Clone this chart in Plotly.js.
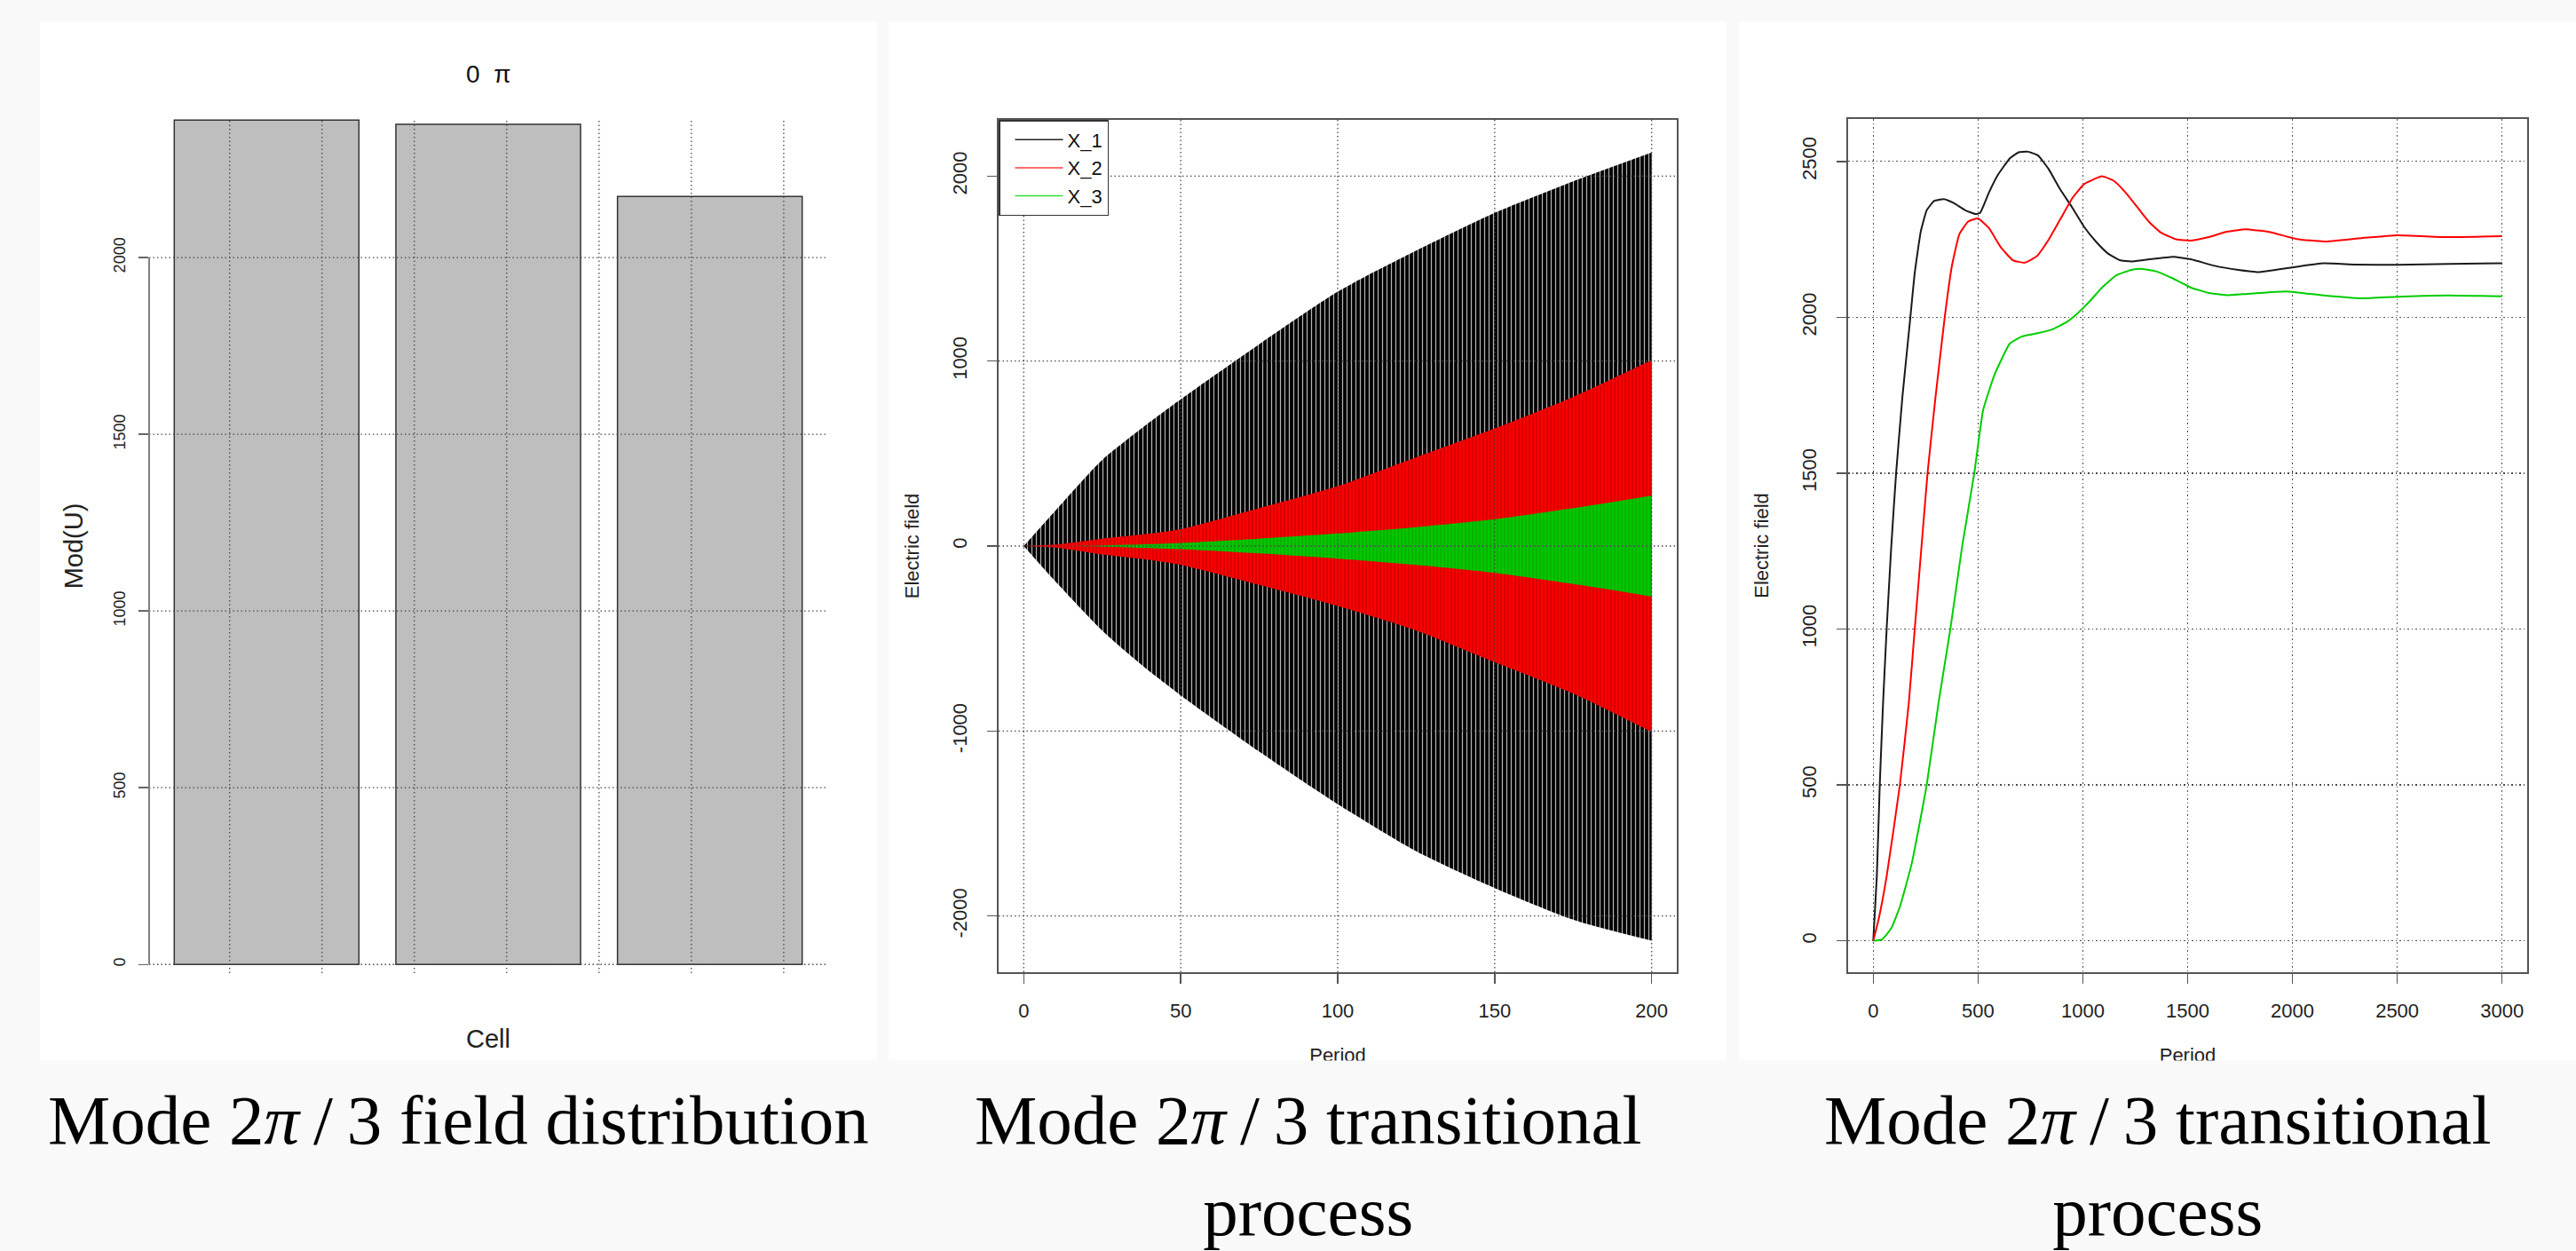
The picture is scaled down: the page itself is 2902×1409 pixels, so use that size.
<!DOCTYPE html>
<html>
<head>
<meta charset="utf-8">
<script src="https://cdn.plot.ly/plotly-3.0.1.min.js"></script>
<style>
html, body { margin: 0; padding: 0; background: #f9f9f9; }
#chart { width: 2902px; height: 1409px; }
</style>
</head>
<body>
<div id="chart"></div>
<script>
// ---------- Panel 1: field distribution (bar chart) ----------
const cells = ['1', '2', '3'];
const modU = [2389, 2377, 2173];
const barTicks = [0, 500, 1000, 1500, 2000];
const barGridX = [0.5, 1, 1.5, 2, 2.5, 3, 3.5];   // grid positions in barplot units

// ---------- Panel 2: transitional process (oscillation envelopes) ----------
const periodEnv = [0, 10, 25, 37.5, 50, 75, 100, 125, 150, 175, 200];
const x1Upper = [0, 190, 466, 636, 793, 1091, 1375, 1597, 1801, 1972, 2128];
const x1Lower = [0, -190, -457, -642, -807, -1111, -1395, -1650, -1849, -2020, -2133];
const x2Upper = [0, 8, 40, 62, 91, 205, 324, 480, 636, 807, 1006];
const x2Lower = [0, -8, -45, -70, -102, -210, -324, -457, -628, -798, -1006];
const x3Upper = [0, 0, 3, 9, 17, 40, 68, 102, 145, 205, 273];
const x3Lower = [0, 0, -3, -9, -17, -40, -68, -102, -145, -205, -273];
const p2XTicks = [0, 50, 100, 150, 200];
const p2YTicks = [-2000, -1000, 0, 1000, 2000];

// ---------- Panel 3: transitional process (amplitudes) ----------
const ampX1 = [0, 17, 31, 47, 64, 85, 109, 139, 177, 198, 227, 255, 290, 337, 382, 439, 489, 510, 552, 595, 652, 694, 737, 786, 836, 892, 949, 1006, 1062, 1119, 1176, 1232, 1317, 1431, 1516, 1629, 1742, 1841, 1930, 2021, 2149, 2300, 2501, 2750, 3000];
const ampY1 = [0, 207, 500, 766, 1001, 1255, 1500, 1744, 2000, 2143, 2276, 2343, 2373, 2379, 2367, 2343, 2331, 2335, 2400, 2457, 2510, 2529, 2531, 2519, 2476, 2410, 2352, 2290, 2243, 2205, 2183, 2179, 2186, 2194, 2186, 2165, 2152, 2145, 2153, 2162, 2173, 2169, 2168, 2171, 2173];
const ampX2 = [0, 25, 64, 127, 170, 198, 229, 259, 297, 340, 375, 411, 453, 500, 552, 609, 666, 722, 779, 836, 892, 949, 1006, 1091, 1147, 1204, 1261, 1317, 1374, 1445, 1516, 1601, 1686, 1777, 1893, 2021, 2149, 2329, 2501, 2740, 3000];
const ampY2 = [0, 67, 207, 500, 766, 1001, 1255, 1500, 1744, 1995, 2164, 2267, 2307, 2317, 2286, 2224, 2183, 2175, 2195, 2248, 2314, 2381, 2427, 2452, 2438, 2400, 2352, 2305, 2271, 2250, 2246, 2257, 2274, 2282, 2273, 2251, 2243, 2254, 2263, 2257, 2260];
const ampX3 = [0, 42, 85, 127, 184, 255, 312, 368, 425, 482, 524, 578, 652, 708, 779, 850, 921, 977, 1034, 1091, 1161, 1232, 1282, 1346, 1431, 1516, 1601, 1686, 1764, 1970, 2149, 2329, 2501, 2740, 3000];
const ampY3 = [0, 4, 39, 109, 249, 500, 766, 1001, 1269, 1500, 1702, 1815, 1916, 1938, 1948, 1960, 1984, 2014, 2052, 2095, 2135, 2152, 2155, 2148, 2124, 2095, 2078, 2071, 2074, 2083, 2070, 2061, 2066, 2070, 2067];
const p3XTicks = [0, 500, 1000, 1500, 2000, 2500, 3000];
const p3YTicks = [0, 500, 1000, 1500, 2000, 2500];

const seriesNames = ['X_1', 'X_2', 'X_3'];
const seriesColors = ['#1a1a1a', '#ff0000', '#00cd00'];
const legendColors = ['#222222', '#ff3b3b', '#33dd33'];

const captions = [
  'Mode 2<i>π</i>\u2009/\u20093 field distribution',
  'Mode 2<i>π</i>\u2009/\u20093 transitional<br>process',
  'Mode 2<i>π</i>\u2009/\u20093 transitional<br>process'
];

// ---------- geometry helpers (pixels -> paper fractions) ----------
const W = 2902, H = 1409;
const px = v => v / W;
const py = v => 1 - v / H;

const SANS = 'Liberation Sans, Arial, sans-serif';
const SERIF = 'Liberation Serif, Times New Roman, serif';
const GRID = '#4a4a4a';
const GRIDDASH = '1.5px,3px';

function bandPair(upper, lower, color, pattern) {
  const common = {
    type: 'scatter', mode: 'lines', x: periodEnv,
    xaxis: 'x2', yaxis: 'y2', showlegend: false, hoverinfo: 'skip'
  };
  return [
    Object.assign({}, common, { y: lower, line: { width: 0, shape: 'spline', smoothing: 0.7, color: color } }),
    Object.assign({}, common, {
      y: upper, fill: 'tonexty', fillcolor: color, fillpattern: pattern,
      line: { width: 0, shape: 'spline', smoothing: 0.7, color: color }
    })
  ];
}

const traces = [
  {
    type: 'bar', x: cells, y: modU,
    marker: { color: '#bebebe', line: { color: '#333333', width: 1.5 } },
    xaxis: 'x', yaxis: 'y', showlegend: false
  }
].concat(
  bandPair(x1Upper, x1Lower, '#000000', { shape: '|', bgcolor: '#000000', fgcolor: '#ffffff', fgopacity: 0.7, size: 5, solidity: 0.25, fillmode: 'replace' }),
  bandPair(x2Upper, x2Lower, '#ff0000', { shape: '|', bgcolor: '#ff0000', fgcolor: '#6a0000', fgopacity: 0.5, size: 4, solidity: 0.25, fillmode: 'replace' }),
  bandPair(x3Upper, x3Lower, '#00c800', { shape: '|', bgcolor: '#00c800', fgcolor: '#2a6a00', fgopacity: 0.45, size: 4, solidity: 0.25, fillmode: 'replace' })
);
// legend entries for panel 2
seriesNames.forEach((n, i) => traces.push({
  type: 'scatter', mode: 'lines', x: [null], y: [null], name: n,
  line: { color: legendColors[i], width: 1.5 },
  xaxis: 'x2', yaxis: 'y2', hoverinfo: 'skip'
}));
// panel 3 lines
[[ampX1, ampY1], [ampX2, ampY2], [ampX3, ampY3]].forEach((d, i) => traces.push({
  type: 'scatter', mode: 'lines', x: d[0], y: d[1], name: seriesNames[i],
  line: { color: seriesColors[i], width: 2, shape: 'spline', smoothing: 0.4 },
  xaxis: 'x3', yaxis: 'y3', showlegend: false
}));

const tickFont = { family: SANS, size: 22, color: '#222' };
const boxAxis = {
  showline: true, mirror: true, linecolor: '#555', linewidth: 2,
  ticks: 'outside', ticklen: 11, tickwidth: 1.5, tickcolor: '#555',
  zeroline: false, tickfont: tickFont
};

const shapes = [];
// white panel backgrounds
[[45, 988], [1001, 1945], [1959, 2902]].forEach(b => shapes.push({
  type: 'rect', xref: 'paper', yref: 'paper', layer: 'below',
  x0: px(b[0]), x1: px(b[1]), y0: py(1196), y1: py(24),
  fillcolor: '#ffffff', line: { width: 0 }
}));
// panel 1 grid (drawn above the bars)
barTicks.forEach(t => shapes.push({
  type: 'line', xref: 'x domain', yref: 'y', x0: 0, x1: 1, y0: t, y1: t, layer: 'above',
  line: { color: GRID, width: 1.3, dash: GRIDDASH }
}));
barGridX.forEach(g => shapes.push({
  type: 'line', xref: 'x', yref: 'y domain', x0: (g - 0.7) / 1.2, x1: (g - 0.7) / 1.2, y0: 0, y1: 1, layer: 'above',
  line: { color: GRID, width: 1.3, dash: GRIDDASH }
}));
// panel 1 y axis line (from first to last tick, as in R)
shapes.push({
  type: 'line', xref: 'x domain', yref: 'y', x0: 0, x1: 0,
  y0: barTicks[0], y1: barTicks[barTicks.length - 1],
  line: { color: '#808080', width: 2 }
});
// panel 2 grid (above the bands)
p2XTicks.forEach(t => shapes.push({
  type: 'line', xref: 'x2', yref: 'y2 domain', x0: t, x1: t, y0: 0, y1: 1, layer: 'above',
  line: { color: GRID, width: 1.3, dash: GRIDDASH }
}));
p2YTicks.forEach(t => shapes.push({
  type: 'line', xref: 'x2 domain', yref: 'y2', x0: 0, x1: 1, y0: t, y1: t, layer: 'above',
  line: { color: GRID, width: 1.3, dash: GRIDDASH }
}));

const annotations = [
  { // panel 1 main title
    text: '0\u00a0\u00a0π', xref: 'paper', yref: 'paper', x: px(550), y: py(83),
    xanchor: 'center', yanchor: 'middle', showarrow: false,
    font: { family: SANS, size: 28, color: '#111' }
  },
  { // band covering the lower caption area (clips the axis titles like the original)
    text: '\u00a0', xref: 'paper', yref: 'paper', x: 0, y: 0, xanchor: 'left', yanchor: 'bottom',
    width: W, height: H - 1196, bgcolor: '#f9f9f9', borderpad: 0, showarrow: false
  }
];
[516, 1473, 2430].forEach((cx, i) => annotations.push({
  text: captions[i], xref: 'paper', yref: 'paper', x: px(cx), y: py(1216),
  xanchor: 'center', yanchor: 'top', align: 'center', showarrow: false,
  font: { family: SERIF, size: 79, color: '#000' }
}));

const layout = {
  width: W, height: H,
  margin: { l: 0, r: 0, t: 0, b: 0, pad: 0 },
  paper_bgcolor: '#f9f9f9', plot_bgcolor: 'rgba(0,0,0,0)',
  bargap: 1 - 1 / 1.2,
  showlegend: true,
  legend: {
    x: px(1125), xanchor: 'left', y: py(135), yanchor: 'top',
    bgcolor: '#ffffff', bordercolor: '#333', borderwidth: 1.5,
    font: { family: SANS, size: 22, color: '#111' },
    traceorder: 'normal',
    itemwidth: 54, indentation: 12, tracegroupgap: 0
  },
  xaxis: {
    domain: [px(168), px(932)], anchor: 'y', type: 'category', range: [-0.53, 2.53],
    showticklabels: false, ticks: '', showgrid: false, zeroline: false, showline: false,
    title: { text: 'Cell', font: { family: SANS, size: 29, color: '#222' }, standoff: 63 }
  },
  yaxis: {
    domain: [py(1096), py(134)], anchor: 'x', range: [-24.5, 2392],
    tickvals: barTicks, ticktext: barTicks.map(String), tickangle: -90,
    ticks: 'outside', ticklen: 11, tickwidth: 1.5, tickcolor: '#666',
    tickfont: { family: SANS, size: 18, color: '#222' }, ticklabelstandoff: 8,
    showgrid: false, zeroline: false, showline: false,
    title: { text: 'Mod(U)', font: { family: SANS, size: 29, color: '#222' }, standoff: 22 }
  },
  xaxis2: Object.assign({}, boxAxis, {
    domain: [px(1125), px(1889)], anchor: 'y2', range: [-8, 208],
    tickvals: p2XTicks, ticktext: p2XTicks.map(String), showgrid: false, ticklabelstandoff: 12,
    title: { text: 'Period', font: { family: SANS, size: 22, color: '#222' }, standoff: 30 }
  }),
  yaxis2: Object.assign({}, boxAxis, {
    domain: [py(1095), py(135)], anchor: 'x2', range: [-2304, 2304],
    tickvals: p2YTicks, ticktext: p2YTicks.map(String), tickangle: -90, showgrid: false, ticklabelstandoff: 14,
    title: { text: 'Electric field', font: { family: SANS, size: 22, color: '#222' }, standoff: 28 }
  }),
  xaxis3: Object.assign({}, boxAxis, {
    domain: [px(2082), px(2847)], anchor: 'y3', range: [-120, 3120],
    tickvals: p3XTicks, ticktext: p3XTicks.map(String), ticklabelstandoff: 12,
    showgrid: true, gridcolor: GRID, gridwidth: 1.3, griddash: GRIDDASH,
    title: { text: 'Period', font: { family: SANS, size: 22, color: '#222' }, standoff: 30 }
  }),
  yaxis3: Object.assign({}, boxAxis, {
    domain: [py(1095), py(134)], anchor: 'x3', range: [-101, 2636],
    tickvals: p3YTicks, ticktext: p3YTicks.map(String), tickangle: -90, ticklabelstandoff: 14,
    showgrid: true, gridcolor: GRID, gridwidth: 1.3, griddash: GRIDDASH,
    title: { text: 'Electric field', font: { family: SANS, size: 22, color: '#222' }, standoff: 28 }
  }),
  shapes: shapes,
  annotations: annotations
};

Plotly.newPlot('chart', traces, layout, { staticPlot: true, displayModeBar: false });
</script>
</body>
</html>
